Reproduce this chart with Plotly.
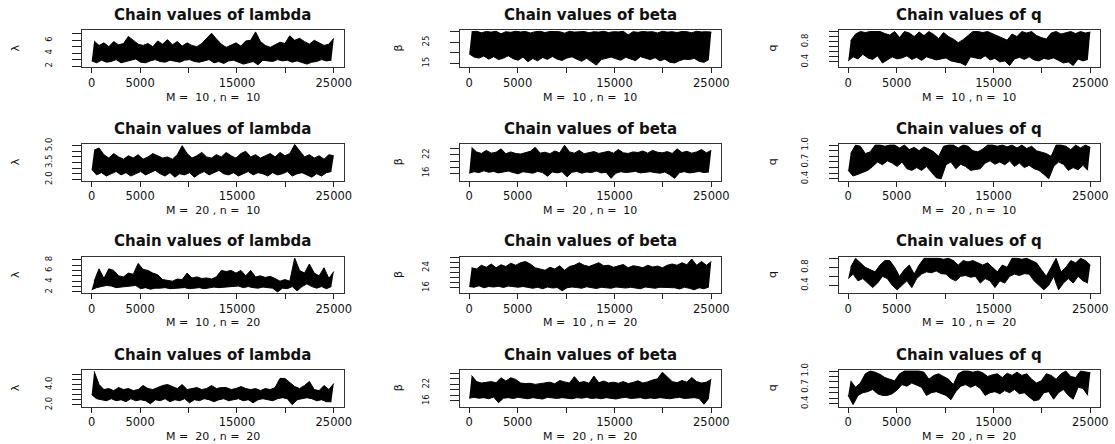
import numpy as np
import plotly.graph_objects as go

# ---- MCMC chains: (min, max) of the draws in each block of 500 iterations ----
lam_m10_n10 = [2.8,5.9,2.5,5.2,2.9,5.6,2.6,5.0,2.7,5.8,3.0,5.3,2.5,5.5,2.7,6.6,2.9,6.0,3.1,5.4,
               2.6,5.2,2.5,5.5,2.8,5.0,3.0,5.9,2.7,5.4,2.6,6.1,2.9,5.3,2.8,5.8,2.6,5.1,2.9,5.6,
               3.0,5.2,2.7,5.0,2.6,5.5,2.8,6.3,3.0,7.1,2.5,6.2,2.7,5.4,2.4,4.9,2.8,5.2,2.9,5.6,
               2.6,5.1,2.3,5.9,2.5,6.0,2.7,7.3,2.2,5.8,2.9,5.2,2.8,4.9,2.7,5.3,3.0,5.7,2.8,5.5,
               2.9,6.7,2.6,6.0,2.8,6.3,2.5,5.8,2.3,5.4,2.6,6.0,2.7,5.6,3.0,5.2,2.8,5.4,2.9,6.3]
beta_m10_n10 = [19.5,30.0,18.0,30.2,17.5,29.5,18.5,30.1,17.0,29.8,18.2,30.2,16.8,29.0,17.5,30.0,18.6,29.7,17.2,30.2,
                16.5,29.9,18.0,30.1,15.8,29.4,17.3,30.0,16.2,30.2,17.8,29.6,16.9,30.1,18.3,29.9,17.0,30.0,16.4,29.3,
                17.6,30.2,18.1,29.8,17.0,30.0,16.0,30.1,17.4,29.5,15.9,30.0,14.2,29.8,16.8,30.2,17.5,29.6,18.0,30.0,
                17.2,29.9,16.5,30.2,17.9,28.5,17.0,30.0,16.3,29.7,18.2,30.1,17.5,29.9,16.8,30.0,17.7,29.4,16.2,30.2,
                17.0,29.8,15.6,30.0,15.2,29.6,16.3,30.1,17.0,30.0,16.8,29.5,17.4,30.2,16.0,29.9,15.5,30.0,16.8,29.8]
q_m10_n10 = [0.42,0.82,0.50,0.95,0.46,1.00,0.55,0.98,0.48,1.00,0.45,1.00,0.52,1.00,0.38,0.96,0.44,0.93,0.50,1.00,
             0.46,0.88,0.48,1.00,0.52,0.97,0.45,0.90,0.49,0.99,0.43,0.92,0.50,1.00,0.47,0.94,0.44,0.86,0.46,0.98,
             0.48,0.90,0.42,0.85,0.40,0.78,0.38,0.84,0.33,0.92,0.50,1.00,0.48,1.00,0.46,0.98,0.52,1.00,0.44,0.96,
             0.47,0.92,0.40,0.87,0.42,0.83,0.33,0.95,0.46,0.90,0.49,1.00,0.45,0.97,0.50,1.00,0.44,0.92,0.42,0.88,
             0.47,0.85,0.45,0.97,0.48,1.00,0.43,0.95,0.38,0.98,0.40,1.00,0.33,0.96,0.46,1.00,0.42,0.97,0.45,0.99]

lam_m20_n10 = [2.9,4.6,2.4,4.8,2.6,4.2,2.3,3.9,2.5,4.3,2.7,4.0,2.4,3.8,2.6,4.1,2.3,3.9,2.5,4.2,
               2.7,3.8,2.4,4.0,2.6,4.3,2.8,4.1,2.5,3.9,2.3,4.0,2.6,3.8,2.2,4.2,2.5,5.0,2.4,4.3,
               2.6,3.9,2.2,4.1,2.5,4.4,2.7,4.0,2.4,3.9,2.6,4.2,2.8,4.0,2.5,4.4,2.4,4.1,2.6,3.9,
               2.3,4.3,2.5,4.5,2.7,4.0,2.4,4.2,2.6,3.9,2.5,4.1,2.3,4.3,2.6,4.0,2.4,4.4,2.5,4.1,
               2.7,4.3,2.3,5.1,2.5,4.5,2.6,4.0,2.4,4.2,2.2,3.9,2.5,4.1,2.3,3.8,2.6,4.2,2.7,4.1]
beta_m20_n10 = [16.0,24.5,16.5,23.0,16.2,22.5,16.8,23.5,16.3,22.6,16.6,22.9,16.1,24.0,16.4,22.4,16.7,23.0,16.2,22.5,
                15.8,22.3,16.5,22.8,16.3,23.2,16.0,24.5,16.6,22.6,16.2,22.9,15.0,22.4,16.4,23.3,16.1,22.7,16.5,25.2,
                14.8,23.0,16.3,22.6,16.6,23.5,16.0,22.4,16.4,22.8,16.2,23.1,16.7,22.5,16.1,22.9,16.3,23.2,14.3,22.6,
                16.0,23.8,16.5,22.7,16.2,22.5,16.4,23.0,16.6,22.8,16.1,23.3,16.3,22.6,16.5,23.5,16.2,22.9,16.0,22.7,
                16.4,23.1,15.5,22.5,14.3,24.0,16.2,22.8,16.5,23.2,16.1,22.6,16.3,23.0,16.6,23.8,16.2,22.7,16.4,23.5]
q_m20_n10 = [0.55,0.85,0.45,1.00,0.48,0.98,0.52,0.85,0.55,0.88,0.62,1.00,0.70,1.00,0.65,0.98,0.72,1.00,0.68,1.00,
             0.62,0.95,0.70,1.00,0.58,0.92,0.55,0.96,0.60,0.90,0.55,0.97,0.62,0.93,0.52,0.88,0.42,0.80,0.40,0.98,
             0.65,1.00,0.70,1.00,0.58,0.95,0.66,1.00,0.62,0.98,0.55,0.90,0.56,0.88,0.58,0.93,0.68,1.00,0.72,1.00,
             0.66,0.98,0.70,1.00,0.65,0.97,0.72,1.00,0.62,0.95,0.68,1.00,0.60,0.94,0.64,0.98,0.58,0.90,0.55,0.88,
             0.48,0.85,0.40,0.80,0.62,1.00,0.70,1.00,0.66,0.98,0.55,0.92,0.60,1.00,0.56,0.95,0.64,1.00,0.55,0.96]

lam_m10_n20 = [2.4,4.0,2.8,6.3,3.0,4.5,3.2,6.3,3.1,6.0,2.8,5.0,2.9,4.8,3.0,5.5,3.2,5.3,3.2,7.3,
               2.6,6.2,2.8,6.0,2.5,5.5,2.7,5.2,2.7,4.3,2.8,4.2,2.6,4.0,2.7,4.4,2.8,4.3,2.8,5.5,
               2.6,4.6,2.7,4.8,2.8,4.5,2.6,4.6,2.7,4.4,2.9,4.8,2.8,6.0,2.9,5.8,3.0,6.0,3.0,5.5,
               3.1,6.0,2.8,5.0,3.0,6.0,2.8,4.8,2.7,5.0,2.9,4.7,2.8,4.9,2.7,4.5,2.0,4.0,2.7,4.3,
               2.6,4.0,3.0,8.3,2.2,6.0,3.0,5.5,3.5,7.2,3.0,5.5,2.7,5.0,3.0,6.5,2.6,4.5,3.0,5.8]
beta_m10_n20 = [16.5,24.0,16.2,23.5,16.8,25.0,16.0,24.2,16.5,25.5,16.3,24.0,16.6,25.2,16.1,24.5,16.7,25.8,16.4,25.0,
                16.2,26.0,16.5,26.5,16.0,25.5,15.8,24.0,16.2,23.5,15.6,23.0,16.3,24.2,15.9,23.5,16.1,24.8,14.8,23.0,
                16.0,24.5,16.3,25.0,16.1,26.0,15.8,25.0,16.4,24.5,16.0,25.2,15.7,26.0,16.2,24.8,16.0,25.0,15.8,24.2,
                16.3,24.6,16.1,25.3,15.9,24.0,16.2,24.8,16.0,24.5,15.6,24.0,16.3,25.0,16.0,24.3,15.8,24.7,16.2,24.0,
                16.1,25.0,15.9,25.5,16.0,25.0,15.5,26.0,16.2,25.2,15.8,27.5,15.2,25.0,16.0,26.5,15.6,25.0,16.3,26.5]
q_m10_n20 = [0.55,0.80,0.65,1.00,0.50,0.90,0.55,0.80,0.45,0.75,0.35,0.70,0.45,0.85,0.60,0.95,0.55,0.95,0.40,0.80,
             0.30,0.60,0.40,0.75,0.50,0.85,0.35,0.65,0.55,0.85,0.65,1.00,0.70,1.00,0.68,1.00,0.72,1.00,0.66,0.98,
             0.65,1.00,0.55,0.95,0.50,0.85,0.60,0.95,0.62,0.92,0.58,0.95,0.60,0.90,0.45,0.85,0.55,0.90,0.50,0.80,
             0.35,0.70,0.50,0.85,0.45,0.80,0.60,1.00,0.65,1.00,0.62,0.98,0.66,1.00,0.65,0.95,0.50,0.90,0.40,0.75,
             0.30,0.60,0.40,0.80,0.60,1.00,0.30,0.70,0.45,0.80,0.55,0.95,0.45,0.90,0.60,1.00,0.50,0.95,0.45,0.85]

lam_m20_n20 = [3.0,5.3,2.6,4.0,2.5,3.5,2.4,3.6,2.6,3.4,2.4,3.7,2.5,3.5,2.3,3.6,2.6,3.4,2.4,3.5,
               2.5,3.9,2.4,3.6,2.1,3.5,2.5,3.7,2.4,3.9,2.6,4.0,2.3,3.8,2.5,3.6,2.4,4.0,2.6,3.5,
               2.2,3.6,2.5,3.7,2.4,3.5,2.6,3.6,2.5,3.9,2.3,3.6,2.5,3.7,2.6,3.7,2.4,3.5,2.5,3.6,
               2.6,3.8,2.4,3.6,2.5,3.5,2.2,3.6,2.5,3.4,2.6,3.6,2.5,3.5,2.4,3.7,2.6,4.6,2.7,4.6,
               2.6,4.2,2.0,3.8,2.5,3.6,2.6,3.9,2.7,4.3,2.6,3.5,2.4,3.4,2.5,3.9,2.3,3.5,2.3,4.1]
beta_m20_n20 = [17.0,25.2,17.3,23.0,17.0,22.5,17.2,22.8,16.8,23.0,17.4,22.6,15.4,24.4,17.0,23.2,17.2,24.4,16.9,23.8,
                17.3,22.5,17.1,22.3,16.8,22.4,17.2,22.0,17.0,22.3,16.7,22.6,17.3,22.8,17.1,22.2,16.9,23.4,17.2,22.9,
                17.0,22.5,16.8,24.8,17.2,22.7,17.0,23.0,17.3,22.4,16.9,25.0,17.1,22.6,16.8,23.2,17.2,22.5,17.0,22.8,
                16.7,22.4,17.1,23.0,17.3,22.3,16.9,22.7,17.0,23.3,17.2,22.5,16.8,22.9,17.1,23.6,16.9,24.0,17.2,26.4,
                17.0,24.8,16.8,23.0,17.1,22.6,17.3,23.4,16.9,22.8,17.0,24.5,17.2,23.0,16.9,22.5,14.8,22.8,17.0,23.8]
q_m20_n20 = [0.55,0.82,0.38,0.70,0.55,0.78,0.60,0.95,0.62,1.00,0.66,0.98,0.58,0.94,0.55,0.88,0.55,0.85,0.58,0.82,
             0.65,0.95,0.75,1.00,0.72,1.00,0.78,1.00,0.74,1.00,0.70,0.98,0.55,0.85,0.60,0.92,0.62,0.95,0.58,0.90,
             0.55,0.85,0.47,0.75,0.62,0.95,0.72,1.00,0.75,1.00,0.70,0.98,0.74,1.00,0.68,0.97,0.55,0.90,0.60,0.93,
             0.62,0.95,0.58,0.88,0.64,0.96,0.60,0.92,0.66,0.98,0.58,0.92,0.60,0.95,0.52,0.85,0.45,0.78,0.47,0.82,
             0.60,0.95,0.62,0.92,0.48,0.85,0.60,0.95,0.66,1.00,0.55,0.90,0.48,0.88,0.70,1.00,0.68,0.98,0.55,0.97]

# ---- axis tick positions and labels ----
x_ticks = [0, 5000, 10000, 15000, 20000, 25000]
x_ticklabels = ["0", "5000", "", "15000", "", "25000"]

y_ticks = {
    "lam_m10_n10": ([2, 3, 4, 5, 6, 7], ["2", "", "4", "", "6", ""]),
    "beta_m10_n10": ([15, 20, 25, 30], ["15", "", "25", ""]),
    "q_m10_n10": ([0.4, 0.5, 0.6, 0.7, 0.8, 0.9, 1.0], ["0.4", "", "", "", "0.8", "", ""]),
    "lam_m20_n10": ([2.0, 2.5, 3.0, 3.5, 4.0, 4.5, 5.0], ["2.0", "", "", "3.5", "", "", "5.0"]),
    "beta_m20_n10": ([16, 18, 20, 22, 24], ["16", "", "", "22", ""]),
    "q_m20_n10": ([0.4, 0.5, 0.6, 0.7, 0.8, 0.9, 1.0], ["0.4", "", "", "0.7", "", "", "1.0"]),
    "lam_m10_n20": ([2, 3, 4, 5, 6, 7, 8], ["2", "", "4", "", "6", "", "8"]),
    "beta_m10_n20": ([16, 18, 20, 22, 24, 26, 28], ["16", "", "", "", "24", "", ""]),
    "q_m10_n20": ([0.4, 0.6, 0.8, 1.0], ["0.4", "", "0.8", ""]),
    "lam_m20_n20": ([2.0, 2.5, 3.0, 3.5, 4.0, 4.5, 5.0], ["2.0", "", "", "", "4.0", "", ""]),
    "beta_m20_n20": ([16, 18, 20, 22, 24, 26], ["16", "", "", "22", "", ""]),
    "q_m20_n20": ([0.4, 0.5, 0.6, 0.7, 0.8, 0.9, 1.0], ["0.4", "", "", "0.7", "", "", "1.0"]),
}

y_ranges = {
    "lam_m10_n10": [1.85, 7.6], "beta_m10_n10": [13.3, 30.8], "q_m10_n10": [0.30, 1.03],
    "lam_m20_n10": [1.9, 5.15], "beta_m20_n10": [13.6, 25.6], "q_m20_n10": [0.37, 1.02],
    "lam_m10_n20": [1.8, 8.5], "beta_m10_n20": [13.9, 28.3], "q_m10_n20": [0.23, 1.03],
    "lam_m20_n20": [1.83, 5.43], "beta_m20_n20": [14.0, 27.2], "q_m20_n20": [0.345, 1.02],
}

panels = [
    ("lam_m10_n10", lam_m10_n10, "lambda", "λ", 10, 10),
    ("beta_m10_n10", beta_m10_n10, "beta", "β", 10, 10),
    ("q_m10_n10", q_m10_n10, "q", "q", 10, 10),
    ("lam_m20_n10", lam_m20_n10, "lambda", "λ", 20, 10),
    ("beta_m20_n10", beta_m20_n10, "beta", "β", 20, 10),
    ("q_m20_n10", q_m20_n10, "q", "q", 20, 10),
    ("lam_m10_n20", lam_m10_n20, "lambda", "λ", 10, 20),
    ("beta_m10_n20", beta_m10_n20, "beta", "β", 10, 20),
    ("q_m10_n20", q_m10_n20, "q", "q", 10, 20),
    ("lam_m20_n20", lam_m20_n20, "lambda", "λ", 20, 20),
    ("beta_m20_n20", beta_m20_n20, "beta", "β", 20, 20),
    ("q_m20_n20", q_m20_n20, "q", "q", 20, 20),
]

W, H = 1115, 444
col_px = [(82, 343.5), (459.5, 721), (838.5, 1100)]
row_px = [(30, 67), (144, 180.5), (257, 293), (370, 406.5)]
title_y = [15, 129, 241, 355]
xlab_y = [97, 210, 322, 436]
ylab_x = [15, 398, 772]

FONT = "DejaVu Sans"
fig = go.Figure()
annotations = []
layout_axes = {}

for k, (key, chain, pname, sym, M, n) in enumerate(panels):
    r, c = divmod(k, 3)
    x0, x1 = col_px[c]
    top, bot = row_px[r]
    idx = "" if k == 0 else str(k + 1)
    lo = chain[0::2]
    hi = chain[1::2]
    # iteration index at the low / high draw of each block
    it_lo = np.linspace(1, 25000, 2 * len(lo))[0::2]
    it_hi = np.linspace(1, 25000, 2 * len(hi))[1::2]
    common = dict(xaxis="x" + idx, yaxis="y" + idx, showlegend=False,
                  hoverinfo="skip", mode="lines")
    fig.add_trace(go.Scatter(x=it_lo, y=lo, line=dict(color="black", width=1), **common))
    fig.add_trace(go.Scatter(x=it_hi, y=hi, line=dict(color="black", width=1),
                             fill="tonexty", fillcolor="black", **common))
    tv, tt = y_ticks[key]
    layout_axes["xaxis" + idx] = dict(
        domain=[x0 / W, x1 / W], anchor="y" + idx, range=[-1000, 26000],
        tickvals=x_ticks, ticktext=x_ticklabels, ticks="outside", ticklen=5,
        tickwidth=1, tickcolor="#222", showline=True, mirror=True, linecolor="#333",
        linewidth=1, showgrid=False, zeroline=False, automargin=False,
        tickfont=dict(family=FONT, size=11.5, color="#111"), ticklabelstandoff=0,
    )
    layout_axes["yaxis" + idx] = dict(
        domain=[1 - bot / H, 1 - top / H], anchor="x" + idx, range=y_ranges[key],
        tickvals=tv, ticktext=tt, ticks="outside", ticklen=9, tickwidth=1,
        tickcolor="#222", showline=True, mirror=True, linecolor="#333", linewidth=1,
        showgrid=False, zeroline=False, tickangle=-90, automargin=False,
        tickfont=dict(family=FONT, size=8.5, color="#111"), ticklabelstandoff=17,
    )
    cx = (x0 + x1) / 2
    annotations.append(dict(
        text="<b>Chain values of %s</b>" % pname, x=cx / W, y=1 - title_y[r] / H,
        xref="paper", yref="paper", showarrow=False, xanchor="center", yanchor="middle",
        font=dict(family=FONT, size=15, color="#111"),
    ))
    annotations.append(dict(
        text="M =  %d , n =  %d" % (M, n), x=cx / W, y=1 - xlab_y[r] / H,
        xref="paper", yref="paper", showarrow=False, xanchor="center", yanchor="middle",
        font=dict(family=FONT, size=11, color="#111"),
    ))
    annotations.append(dict(
        text=sym, x=ylab_x[c] / W, y=1 - (top + bot) / 2 / H, textangle=-90,
        xref="paper", yref="paper", showarrow=False, xanchor="center", yanchor="middle",
        font=dict(family=FONT, size=11, color="#111"),
    ))

fig.update_layout(
    width=W, height=H, margin=dict(l=0, r=0, t=0, b=0, autoexpand=False),
    paper_bgcolor="white", plot_bgcolor="white",
    annotations=annotations, **layout_axes,
)
fig.write_html("out.html")
